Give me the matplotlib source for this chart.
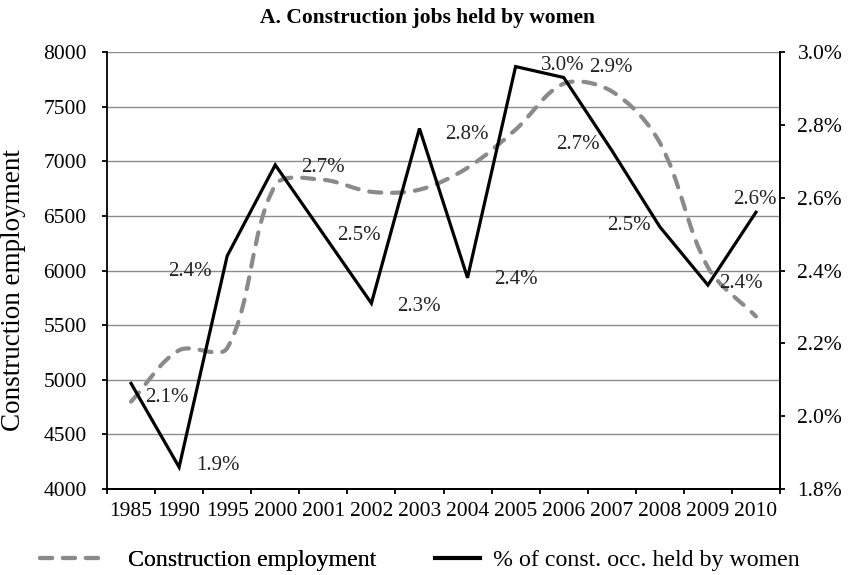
#!/usr/bin/env python3
"""Construction jobs held by women: employment vs. share of women."""

import matplotlib
matplotlib.use("Agg")
import matplotlib.pyplot as plt
from matplotlib.lines import Line2D
from matplotlib.path import Path
from matplotlib.patches import PathPatch
from matplotlib.ticker import FixedLocator, FuncFormatter
import numpy as np

# data
years = ["1985", "1990", "1995", "2000", "2001", "2002", "2003",
         "2004", "2005", "2006", "2007", "2008", "2009", "2010"]
employment = [4800, 5270, 5290, 6780, 6830, 6720, 6740,
              6940, 7290, 7710, 7640, 7170, 6030, 5580]
women_share = [2.09, 1.86, 2.44, 2.69, 2.50, 2.31, 2.79,
               2.38, 2.96, 2.93, 2.73, 2.52, 2.36, 2.56]

# label offsets (points) for the percentage labels
label_offsets = [(26, -10), (28, 1), (-27, -11), (34, -2), (26, -1), (34, -2), (34, -4),
                 (35, -1), (34, 1), (34, 7), (-24, 4), (-22, 1), (24, 1), (-1, 9)]

plt.rcParams["font.family"] = ["Liberation Serif", "DejaVu Serif"]
FS = 15.5
GRAY = "#8a8a8a"


def smooth_path(ax, x, y):
    """Excel-like smoothed line: cubic Beziers with chord-length weighted
    control points, built in screen space and mapped back to data."""
    trans = ax.transData
    pts = trans.transform(np.column_stack([x, y]).astype(float))
    n = len(pts)
    verts = [pts[0]]
    codes = [Path.MOVETO]
    for i in range(n - 1):
        p0 = pts[i - 1] if i > 0 else pts[i]
        p1 = pts[i]
        p2 = pts[i + 1]
        p3 = pts[i + 2] if i + 2 < n else pts[i + 1]
        d01 = np.hypot(*(p1 - p0))
        d12 = np.hypot(*(p2 - p1))
        d23 = np.hypot(*(p3 - p2))
        c1 = p1 + (p2 - p0) * d12 / (3.0 * (d01 + d12)) if d01 > 0 else p1 + (p2 - p1) / 3.0
        c2 = p2 - (p3 - p1) * d12 / (3.0 * (d12 + d23)) if d23 > 0 else p2 - (p2 - p1) / 3.0
        verts += [c1, c2, p2]
        codes += [Path.CURVE4] * 3
    verts = trans.inverted().transform(np.array(verts))
    return Path(verts, codes)


fig = plt.figure(figsize=(8.51, 5.75), dpi=100)
ax = fig.add_axes([107 / 851, 1 - 489 / 575, (780 - 107) / 851, (489 - 52) / 575])
ax2 = ax.twinx()

x = np.arange(len(years))

ax.set_xlim(-0.5, len(years) - 0.5)
ax.set_ylim(4000, 8000)

# employment, smoothed dashed gray line on the left axis
emp_patch = PathPatch(smooth_path(ax, x, employment), fill=False, edgecolor=GRAY,
                      linewidth=3.0, linestyle=(0, (2.9, 2.6)), capstyle="round")
ax.add_patch(emp_patch)

ax.set_yticks(np.arange(4000, 8001, 500))
ax.yaxis.grid(True, color="#8c8c8c", linewidth=1.0)
ax.set_axisbelow(True)
ax.set_xticks(x)
ax.set_xticklabels(years)
ax.xaxis.set_minor_locator(FixedLocator(np.arange(-0.5, len(years), 1.0)))
ax.tick_params(axis="x", which="major", length=0, pad=9, labelsize=FS)
ax.tick_params(axis="x", which="minor", length=3.6, width=1.3, direction="out")
ax.tick_params(axis="y", length=3.6, width=1.3, pad=11, labelsize=FS)
ax.set_ylabel("Construction employment", fontsize=19.5)
ax.yaxis.set_label_coords(-0.121, 0.455)

# share of women, solid black line on the right axis
ax2.plot(x, women_share, color="black", linewidth=2.3, solid_joinstyle="miter")
ax2.set_ylim(1.8, 3.0)
ax2.set_yticks(np.arange(1.8, 3.01, 0.2))
ax2.yaxis.set_major_formatter(FuncFormatter(lambda v, p: f"{v:.1f}%"))
ax2.tick_params(axis="y", length=3.6, width=1.3, pad=9, labelsize=FS)

for xi, v, off in zip(x, women_share, label_offsets):
    ax2.annotate(f"{v:.1f}%", (xi, v), xytext=off, textcoords="offset points",
                 ha="center", va="center", fontsize=FS - 0.5, color="#222222")

for a in (ax, ax2):
    a.spines["top"].set_visible(False)
    for side in ("left", "right", "bottom"):
        a.spines[side].set_linewidth(1.3)
ax2.spines["left"].set_visible(False)

fig.text(0.502, 1 - 18 / 575, "A. Construction jobs held by women",
         ha="center", va="center", fontsize=15.5, fontweight="bold")

# legend: two separate entries below the axis
LFS = 17.2
h1 = Line2D([], [], color=GRAY, linewidth=3.0, linestyle=(0, (2.9, 2.6)),
            dash_capstyle="round")
h2 = Line2D([], [], color="black", linewidth=3.0)
leg1 = fig.legend(handles=[h1], labels=["Construction employment"], loc="center left",
                  bbox_to_anchor=(40 / 851, 1 - 560 / 575), frameon=False,
                  fontsize=LFS, handlelength=67 / 23.9, handletextpad=21 / 23.9,
                  borderpad=0, borderaxespad=0)
leg2 = fig.legend(handles=[h2], labels=["% of const. occ. held by women"], loc="center left",
                  bbox_to_anchor=(435 / 851, 1 - 560 / 575), frameon=False,
                  fontsize=LFS, handlelength=45 / 23.9, handletextpad=13 / 23.9,
                  borderpad=0, borderaxespad=0)
fig.add_artist(leg1)

fig.savefig("out.png", dpi=100)
